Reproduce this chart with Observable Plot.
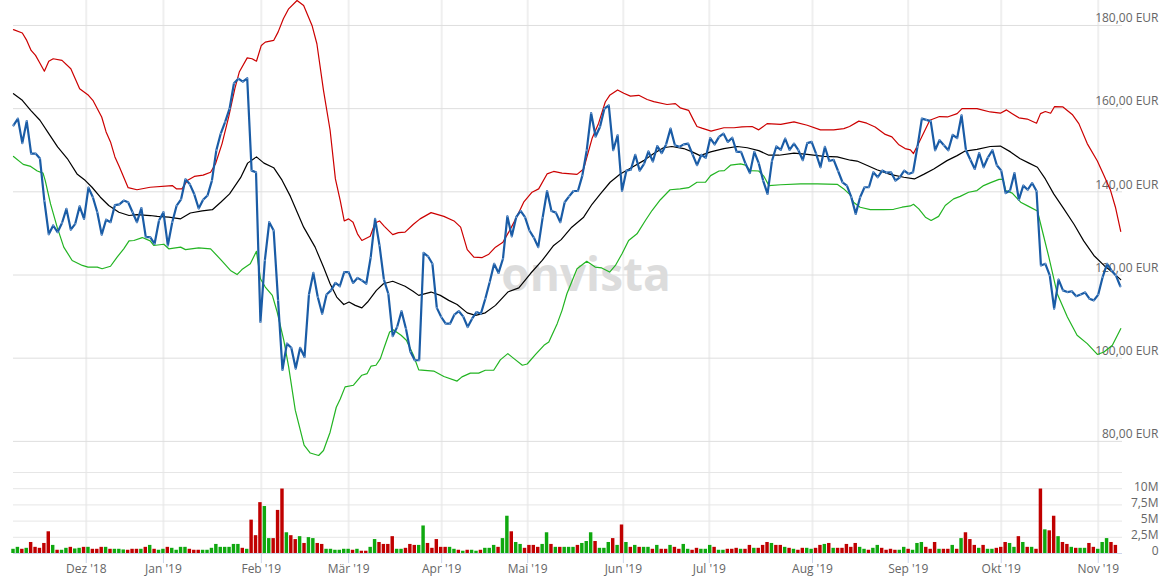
<!DOCTYPE html>
<html><head><meta charset="utf-8">
<script src="https://cdn.jsdelivr.net/npm/d3@7"></script>
<script src="https://cdn.jsdelivr.net/npm/@observablehq/plot@0.6"></script>
<style>
html,body{margin:0;padding:0;background:#fff;}
#chart{position:relative;width:1168px;height:578px;overflow:hidden;font-family:"Open Sans",sans-serif;}
#price,#vol{position:absolute;left:0;}
#price{top:0;} #vol{top:460px;}
</style></head><body><div id="chart"><div id="price"></div><div id="vol"></div></div>
<script>
// trading-day index positions of month starts and their labels
const monthPos = [16.5, 34, 56.2, 76, 97.1, 116.6, 138.3, 157.8, 181.2, 202.9, 224, 246];
const monthLabels = ["Dez '18","Jan '19","Feb '19","Mär '19","Apr '19","Mai '19","Jun '19","Jul '19","Aug '19","Sep '19","Okt '19","Nov '19"];
const priceTicks = [80, 100, 120, 140, 160, 180];
const volTicks = [0, 2.5, 5, 7.5, 10, 12.5];
const volTickLabels = ["0", "2,5M", "5M", "7,5M", "10M"];

// daily close (EUR)
const close = [156.0,157.6,151.7,157.0,149.2,149.2,148.0,137.8,129.8,131.9,
130.3,132.5,135.9,130.9,132.3,136.5,133.5,141.0,138.7,135.1,
129.7,133.3,132.7,136.8,137.0,137.9,137.5,135.1,132.7,136.1,
129.1,129.1,127.5,133.1,135.1,127.1,132.7,136.7,138.2,143.0,
141.8,139.4,136.0,138.1,139.1,142.7,150.0,154.0,156.8,160.0,
166.1,167.2,166.5,167.3,145.1,144.7,108.7,123.5,132.7,130.7,
113.9,97.2,103.5,102.5,97.5,102.5,100.3,115.3,120.5,114.7,
110.7,115.3,116.3,118.1,117.3,120.7,120.7,118.1,119.3,118.7,
117.9,124.2,133.5,127.1,118.9,115.5,105.3,107.5,111.3,107.1,
101.6,99.5,99.5,125.3,124.5,122.7,112.1,109.9,108.3,108.3,
110.5,111.3,110.0,107.5,109.5,111.1,110.7,114.3,118.3,122.7,
120.5,123.9,134.1,129.3,133.9,135.4,133.9,130.7,129.0,126.7,
133.8,140.2,135.4,135.0,132.7,137.5,138.9,140.2,140.2,143.9,
150.0,158.9,153.3,155.6,160.0,160.8,150.0,153.6,140.2,145.1,
145.3,148.9,145.1,146.7,149.7,147.3,151.0,149.3,151.4,155.2,
151.2,150.8,151.4,151.6,149.0,146.4,148.9,148.2,152.9,151.4,
153.2,154.0,152.0,153.0,149.6,149.6,146.8,144.5,149.6,146.9,
142.7,139.5,147.4,150.9,150.1,152.8,150.1,151.6,150.0,147.6,
151.7,152.0,149.2,145.9,150.8,147.4,147.7,145.0,142.3,141.5,
138.7,134.7,138.7,141.1,141.1,144.7,143.5,145.1,144.6,144.7,
142.7,143.5,145.1,144.3,144.7,150.8,157.6,157.3,157.0,150.0,
152.4,151.2,150.0,153.7,152.9,158.4,150.0,147.7,145.5,149.3,
145.9,148.3,150.0,146.4,145.1,139.7,140.3,144.5,138.1,141.5,
140.5,142.1,140.2,122.3,122.7,119.9,111.9,118.9,116.3,115.9,
116.1,114.9,115.3,115.8,114.3,113.9,115.3,119.5,122.7,121.1,
119.9,117.3];

// Bollinger bands read as [trading-day index, EUR]
const upperBand = [[0,179.0],[2,178.2],[3,176.4],[4,174.0],[5,172.8],[6,170.9],[7,169.0],[8,171.4],[9,172.0],[11,171.6],[13,169.6],[14,167.2],[15,164.8],[17,163.2],[18,162.0],[20,158.0],[21,154.4],[22,152.0],[23,148.4],[24,146.0],[26,141.0],[28,140.5],[31,141.1],[36,141.5],[37,140.7],[38.2,140.7],[39.4,142.7],[41,143.7],[43,144.0],[44.7,144.7],[45.8,146.7],[47.3,151.6],[48.8,158.0],[50.2,164.8],[51.2,168.8],[53,172.2],[54.1,172.0],[55.1,171.4],[56.2,175.2],[57.1,176.0],[59,176.4],[60,178.4],[61.2,181.6],[62.4,184.0],[64.3,186.0],[65.8,184.8],[67.7,180.0],[68.8,175.6],[70.3,164.4],[71.8,154.8],[73,143.1],[74.1,137.9],[75,133.0],[76,133.5],[77,132.7],[78,129.9],[79,128.3],[80.9,129.3],[82,132.5],[83,133.0],[84.1,131.7],[86,129.7],[87.3,130.2],[88.8,130.3],[90.7,132.2],[92.2,133.5],[94.7,135.0],[97.6,134.1],[99.9,133.0],[101.4,131.5],[102.9,126.1],[104.4,124.3],[106.3,124.2],[107.8,125.0],[109.3,126.7],[111,127.9],[112.3,130.3],[114.2,134.1],[115.7,137.5],[117.6,139.9],[119.1,140.7],[121,144.3],[122.5,144.9],[124.4,144.5],[127.8,144.2],[129.3,145.5],[131.2,152.8],[132.7,156.5],[134.2,161.6],[135.2,163.2],[137,164.5],[138.4,163.7],[139.9,163.0],[141.8,163.2],[143.7,162.2],[145.2,161.7],[148.2,161.0],[150.1,161.2],[151.2,160.2],[153.1,159.6],[154.2,157.3],[155,155.7],[156.1,155.3],[158.2,154.6],[161.1,155.4],[163.4,155.4],[165.2,155.6],[167.5,155.7],[169,154.9],[170.9,156.4],[174,156.2],[177,156.8],[180,156.0],[183,154.9],[186,154.9],[188.3,155.2],[189.6,155.7],[191.7,157.0],[193.5,156.5],[195.4,155.6],[197.7,153.8],[199.2,153.2],[200.7,151.4],[202.2,150.4],[203.4,150.1],[204.1,149.2],[205.6,152.4],[207.8,157.2],[210,158.1],[211.8,158.0],[214,158.8],[215.1,160.0],[218.5,160.0],[221.5,159.2],[223.8,158.9],[225.2,159.7],[226.5,158.8],[228,157.8],[229.9,157.5],[232,156.5],[232.9,158.8],[234,159.3],[235.2,158.9],[236.1,160.5],[238,160.4],[240.1,158.6],[241.6,156.4],[243.5,151.6],[245.8,147.4],[247.3,143.9],[248.8,140.3],[249.9,136.3],[251.1,130.5]];

const middleBand = [[0,163.6],[2,162.0],[3.9,159.6],[6,157.2],[8,154.0],[10,150.8],[12.2,148.0],[14.4,144.3],[16.3,142.7],[17.8,141.1],[19.7,138.7],[21.6,136.7],[23.9,135.1],[26.2,134.3],[28,134.5],[31,134.3],[32.6,134.1],[35.2,133.9],[37.9,133.5],[40.1,134.9],[42.8,135.4],[45.1,135.7],[47,137.5],[49,139.5],[51.5,143.4],[53.1,146.9],[55.1,148.4],[56.8,146.9],[59,145.8],[60.9,142.8],[62.8,138.9],[65.8,131.5],[68.4,126.7],[70.3,121.9],[71.8,117.9],[73.3,114.7],[74.9,112.9],[76.1,113.5],[77.5,112.7],[79,112.1],[80.3,113.5],[82.3,116.3],[83.9,117.9],[86,118.5],[88.8,117.3],[90.6,116.1],[91.9,115.1],[94.7,115.9],[96.8,115.1],[98.7,113.9],[100.6,112.9],[102.9,110.9],[104.8,110.3],[107,110.9],[109.3,112.7],[112.1,115.9],[114.6,116.9],[117.2,120.3],[119.9,123.5],[122.5,127.1],[124.2,128.5],[126.6,131.5],[129.3,133.9],[131.2,137.0],[133.1,139.5],[135.3,142.3],[137.6,144.3],[140.3,145.9],[142.9,147.5],[145.2,149.2],[147.4,150.6],[149.3,150.9],[152,150.4],[153.9,149.6],[155.7,148.7],[158.1,149.6],[161.1,150.4],[164.1,150.9],[166.4,150.6],[169,149.9],[171.3,148.8],[173.6,148.8],[177,149.3],[180,149.0],[183.8,148.5],[186.8,148.4],[189.8,147.6],[191.3,147.4],[193.5,146.4],[195.8,145.3],[198.8,144.2],[201.9,143.5],[204.3,143.1],[206.4,144.2],[208.7,145.5],[211.7,147.5],[214,148.7],[215.8,149.8],[218.5,150.2],[221.5,150.9],[223.8,151.0],[226.1,149.6],[228.2,148.0],[230.3,146.9],[232.2,145.9],[234,143.1],[235.9,139.5],[238.2,135.9],[240.5,132.2],[242.7,128.2],[245,124.7],[247.3,122.3],[249.2,120.7],[251.1,118.9]];

const lowerBand = [[0,148.5],[2.2,146.6],[3.9,146.1],[5.4,145.0],[6.7,144.5],[7.2,142.7],[8.4,137.1],[9.9,131.5],[11.4,126.7],[13.3,123.5],[15.6,122.3],[16.9,121.9],[19,121.9],[20.1,121.5],[22,122.1],[23.5,124.3],[25,126.3],[26.2,128.2],[27.3,128.3],[29.2,129.0],[31,128.2],[31.8,127.1],[34.1,127.4],[35.2,126.3],[37.9,126.7],[39,126.1],[42,126.5],[44.7,126.3],[47,123.7],[49.2,121.1],[50.7,120.1],[51.8,121.3],[53.7,122.7],[55.1,125.7],[56,119.1],[57.1,117.1],[58.7,115.1],[59.8,111.1],[61.3,104.3],[62.4,97.9],[63.9,87.5],[65.9,79.1],[67.3,77.2],[69.2,76.6],[70.3,77.8],[71.8,82.2],[73.2,88.2],[74.1,90.2],[75.2,93.1],[77.1,93.5],[79,95.9],[80.2,96.3],[81.1,98.1],[82.2,98.3],[83.2,99.9],[84.1,102.7],[85.3,106.3],[86.2,106.8],[87.9,105.5],[89.1,104.3],[90.7,100.7],[91.9,97.2],[95.3,96.9],[97.6,95.6],[100.6,94.5],[101.7,95.5],[103.6,96.4],[105.5,96.4],[107,97.1],[108.9,97.1],[110.4,99.6],[112.1,101.1],[113.5,99.9],[115.4,98.3],[116.5,98.6],[118.4,100.9],[120.3,103.1],[121.4,103.9],[123.3,108.3],[124.4,111.5],[125.5,115.5],[127.8,121.5],[130,123.3],[131.9,121.9],[133.4,121.7],[135.2,120.7],[136.5,122.3],[138,125.1],[139.5,128.3],[141.4,129.9],[143.3,133.1],[144.8,135.5],[146.7,138.1],[148.9,140.5],[151.2,140.7],[153.1,141.0],[155,142.3],[156.9,142.3],[158.1,143.9],[160,145.0],[161.2,145.1],[162.6,146.4],[164.9,146.7],[166,146.4],[167.1,145.1],[169,145.0],[170.2,143.7],[171.3,141.5],[174,141.7],[178.5,141.9],[182.3,141.9],[186.8,141.8],[188.3,140.7],[189.8,139.2],[190.5,137.5],[192,136.3],[194.3,135.7],[197.3,135.7],[199.6,135.8],[201.5,136.3],[203.4,136.6],[204.1,137.0],[205.3,135.9],[206.8,133.9],[208.1,133.1],[209.8,134.1],[211.3,136.7],[213.2,138.3],[214.7,138.9],[216.6,139.9],[218.5,140.3],[220,141.5],[221.6,142.2],[223.5,143.0],[224.4,143.0],[225,140.3],[226.5,139.7],[228.4,137.5],[230.2,136.5],[232.2,135.4],[233.3,130.7],[234.8,124.3],[236.7,115.5],[239,109.9],[241.2,105.5],[243.5,103.5],[245.8,100.9],[247.3,101.5],[249.2,103.1],[251.1,107.1]];

// daily volume (millions) and direction (g = up day, r = down day)
const volume = [.65,.95,.65,.8,1.7,.95,.8,1.55,3.35,1.25,
.5,.5,.8,.95,.7,.8,.95,.95,.65,.65,
.95,.95,.65,.65,.65,.55,.5,.65,.65,.65,
.95,1.25,.65,.5,.65,.95,.8,.5,.95,.95,
.65,.5,.5,.5,.5,.8,1.4,.95,.95,.95,
1.4,1.4,.8,.65,5.15,2.75,7.85,7.25,2.3,2.3,
6.65,9.95,3.2,2.75,2.15,2.6,1.55,2.45,2.3,1.55,
1.4,.65,.65,.5,.5,.65,.65,.5,.65,.35,
.35,.95,2.15,1.7,1.4,1.4,2.6,.65,.65,.8,
1.4,1.25,1.25,4.25,1.55,.8,2.15,.95,.95,.95,
.65,.5,.35,.5,.5,.35,.5,.8,.8,1.25,
.95,2.3,5.75,3.35,1.7,1.4,.8,1.25,1.25,.95,
1.4,3.2,1.4,.95,.95,.95,.95,.95,1.25,
1.55,1.85,3.2,1.85,.8,.8,1.7,2.3,1.25,4.4,
1.7,.95,1.25,.95,.95,.95,.65,1.25,.65,.65,
1.25,.95,.65,1.4,.65,.5,.8,.65,.65,1.25,
.95,.5,.5,.65,.65,.8,.65,.65,1.25,.8,
.8,1.25,1.7,1.55,1.25,1.25,.95,.8,.65,.5,
.8,.8,.65,.8,1.25,1.4,1.55,.8,.8,.8,
1.4,.95,1.55,.95,.65,.5,.8,1.25,.8,.5,
.65,.5,.5,.95,.65,.5,1.55,1.7,.95,.65,
1.7,.65,.65,.65,1.25,.65,2.3,3.2,2.15,1.25,
.8,1.25,.65,.65,.8,.95,1.7,1.55,.95,2.6,
1.7,.95,.95,.65,9.95,3.65,3.5,5.75,2.6,1.7,
1.4,.95,.8,.8,.8,1.55,.95,.65,1.7,2.3,1.7,1.25];
const volumeDir = ("ggrgrrrrrg"+"rggrggrgrr"+"rgrgggrrrg"+"rgrggrgggg"+"rrrggggggg"+
"ggrgrrrggr"+"rrgrrgrggr"+"rggggggrgr"+"rggrrrrggr"+"rrggrrrrrg"+
"grgrggrggg"+"rggrggrrrr"+"ggrgrgggr"+
"gggrgggrgr"+"grgrggrgrr"+"grrggrrggg"+"rggrrrgrrg"+"rrrgrrgrgr"+
"rggrrgrgrr"+"rrrggrggrr"+"rrggrgggrr"+"rgrrgrgrrr"+"grggrrrggr"+
"grgrrgrrgr"+"rgrggrrgggrr").split("");

const closeData = close.map((v, i) => ({i, v}));
const volData = volume.map((v, i) => ({i, v, dir: volumeDir[i]}));
const eur = d => d.toFixed(2).replace(".", ",") + " EUR";

const common = {
  width: 1168, marginLeft: 13, marginRight: 46,
  x: {domain: [0, 251.5], axis: null},
  style: {fontFamily: "'Open Sans', sans-serif", background: "transparent", overflow: "visible"}
};

const pricePlot = Plot.plot({
  ...common,
  height: 460, marginTop: 0, marginBottom: 0,
  y: {domain: [75.4, 186], axis: null},
  marks: [
    Plot.ruleX(monthPos, {stroke: "#efefef", strokeWidth: 2}),
    Plot.ruleY(priceTicks, {stroke: "#dedede", strokeWidth: 1}),
    Plot.text(["onvista"], {frameAnchor: "middle", dx: 18, dy: 46, fontSize: 46, fontWeight: "bold", fill: "#dcdcdc"}),
    Plot.text(priceTicks, {y: d => d, text: eur, frameAnchor: "right", textAnchor: "end", dx: 36, dy: -7, fill: "#666", fontSize: 12}),
    Plot.line(upperBand, {x: d => d[0], y: d => d[1], stroke: "#cc0000", strokeWidth: 1.2}),
    Plot.line(lowerBand, {x: d => d[0], y: d => d[1], stroke: "#22b422", strokeWidth: 1.2}),
    Plot.line(middleBand, {x: d => d[0], y: d => d[1], stroke: "#000", strokeWidth: 1.2}),
    Plot.line(closeData, {x: "i", y: "v", stroke: "#1a5ca6", strokeWidth: 2.2, strokeLinejoin: "round"}),
    Plot.dot(closeData, {x: "i", y: "v", r: 0.9, fill: "#6f9bd0"})
  ]
});
document.getElementById("price").appendChild(pricePlot);

const volPlot = Plot.plot({
  ...common,
  height: 118, marginTop: 12, marginBottom: 25,
  y: {domain: [0, 12.5], axis: null},
  marks: [
    Plot.ruleX(monthPos, {stroke: "#efefef", strokeWidth: 2, insetTop: -12}),
    Plot.ruleY(volTicks.slice(1), {stroke: "#e6e6e6"}),
    Plot.text(volTicks.slice(0, 5), {y: d => d, text: (d, i) => volTickLabels[i], frameAnchor: "right", textAnchor: "end", dx: 36, dy: -2, fill: "#666", fontSize: 12}),
    Plot.rectY(volData, {x1: d => d.i - 0.39, x2: d => d.i + 0.39, y: "v", fill: d => d.dir === "g" ? "#0fa80f" : "#c00000"}),
    Plot.ruleY([0], {stroke: "#ccd6eb"}),
    Plot.ruleX(monthPos, {stroke: "#ccd6eb", insetTop: 81, insetBottom: -10}),
    Plot.text(monthLabels, {x: (d, i) => monthPos[i], frameAnchor: "bottom", dy: 19, fill: "#666", fontSize: 12})
  ]
});
document.getElementById("vol").appendChild(volPlot);
</script></body></html>
